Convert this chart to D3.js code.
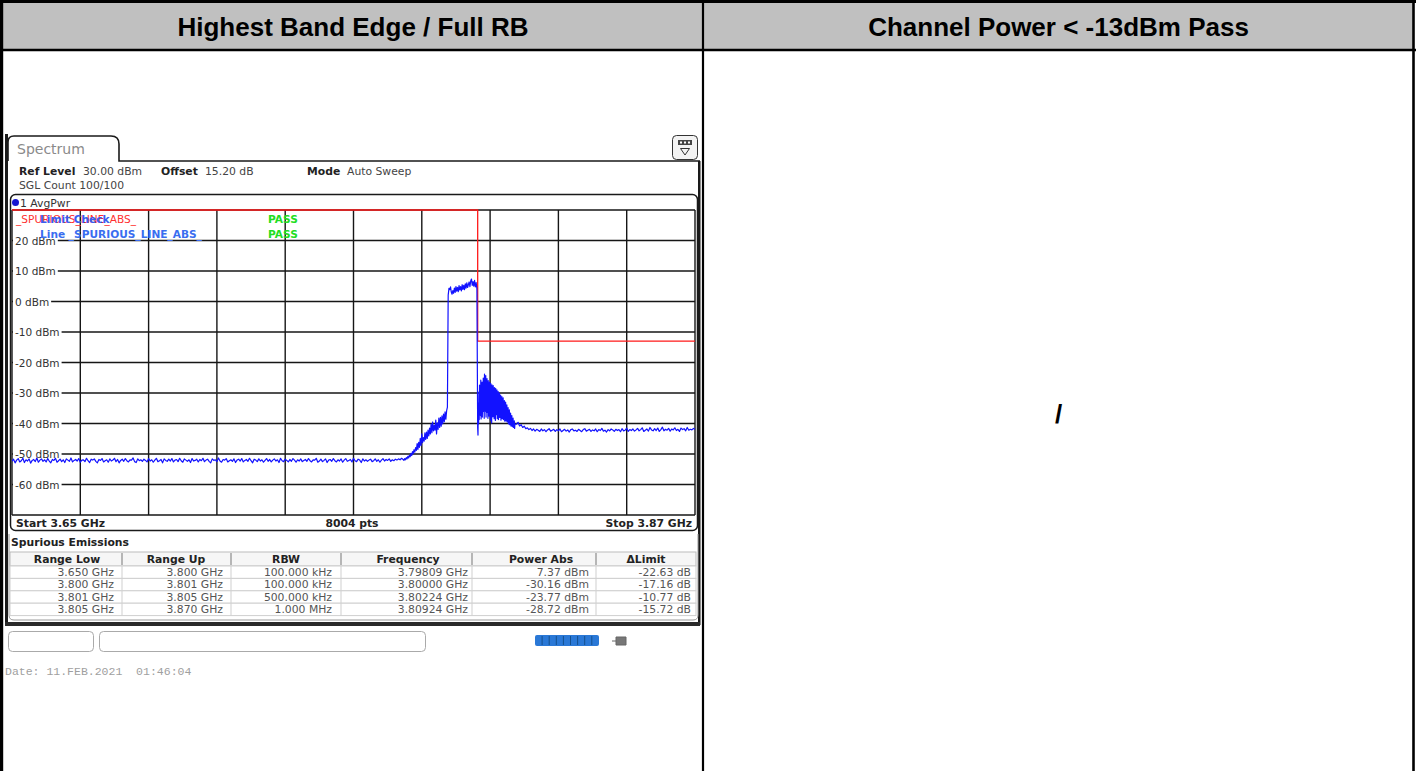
<!DOCTYPE html>
<html>
<head>
<meta charset="utf-8">
<title>Highest Band Edge / Full RB</title>
<script src="https://cdn.jsdelivr.net/npm/d3@7/dist/d3.min.js"></script>
<style>
  html, body { margin: 0; padding: 0; background: #fff; overflow: hidden; }
  svg { display: block; }
</style>
</head>
<body>
<svg id="page" width="1416" height="771"></svg>
<script>
// ---------- report cells ----------
const cellTitles = ["Highest Band Edge / Full RB", "Channel Power < -13dBm Pass"];
const rightCellText = "/";

// ---------- analyzer settings ----------
const tabName = "Spectrum";
const refLevelText = "30.00 dBm";
const offsetText = "15.20 dB";
const modeText = "Auto Sweep";
const sglCountText = "100/100";
const traceName = "1 AvgPwr";
const sweepStartMHz = 3650;
const sweepStopMHz = 3870;
const sweepPoints = 8004;
const levelTop = 30;
const levelBottom = -70;
const levelTicks = [20, 10, 0, -10, -20, -30, -40, -50, -60];
const freqDivisions = 10;

// ---------- limit line ----------
const limitFreqsMHz = [3650, 3800, 3800, 3870];
const limitLevels = [30, 30, -13, -13];
const limitLineName = "_SPURIOUS_LINE_ABS_";
const limitCheckLabel = "Limit Check";
const limitLineLabel = "Line _SPURIOUS_LINE_ABS_";
const limitResult = "PASS";

// ---------- trace (dBm), one array per stretch of the sweep ----------
// noise floor below the channel, 3650 MHz onward, 0.5 MHz apart
const floorLowStart = 3650, floorLowStep = 0.5;
const floorLow = [
  -52.4,-51.7,-52.9,-52.0,-51.5,-52.6,-52.2,-51.4,-52.8,-51.9,-52.3,-51.6,-53.0,-52.1,-51.8,-52.5,-51.3,-52.7,-52.0,-51.6,-52.4,
  -51.9,-52.6,-51.5,-52.3,-52.9,-51.8,-52.1,-51.4,-52.7,-52.2,-51.7,-52.5,-51.9,-52.8,-51.6,-52.0,-52.4,-51.3,-52.6,-52.1,-51.8,
  -52.3,-51.5,-52.7,-52.0,-51.9,-52.5,-51.4,-52.2,-52.8,-51.7,-52.0,-51.6,-52.4,-52.9,-51.8,-52.1,-51.5,-52.6,-52.2,-51.9,-52.7,
  -51.6,-52.3,-52.0,-51.4,-52.5,-51.8,-52.9,-52.1,-51.7,-52.4,-51.5,-52.2,-52.6,-51.9,-52.0,-51.3,-52.5,-52.8,-51.6,-52.2,-51.9,
  -52.4,-51.7,-52.1,-52.6,-51.5,-52.3,-51.9,-52.7,-52.0,-51.4,-52.5,-52.2,-51.8,-52.9,-51.6,-52.1,-52.4,-51.7,-52.3,-51.5,-52.6,
  -52.0,-51.8,-52.5,-51.4,-52.2,-52.7,-51.6,-52.0,-52.4,-51.9,-52.8,-51.5,-52.3,-52.1,-51.7,-52.6,-51.8,-52.2,-51.4,-52.5,-52.0,
  -51.7,-52.4,-52.9,-51.6,-52.1,-51.9,-52.5,-51.3,-52.3,-52.7,-51.8,-52.0,-51.5,-52.6,-52.2,-51.9,-52.4,-51.6,-52.8,-52.0,-51.7,
  -52.3,-51.5,-52.6,-52.1,-51.8,-52.4,-51.4,-52.2,-52.9,-51.7,-52.0,-52.5,-51.6,-52.3,-51.9,-52.7,-52.1,-51.5,-52.4,-51.8,-52.6,
  -52.0,-51.6,-52.3,-51.9,-52.8,-51.4,-52.2,-52.5,-51.7,-52.1,-52.6,-51.8,-52.4,-51.5,-52.0,-52.7,-51.9,-52.3,-51.6,-52.5,-52.1,
  -51.8,-52.4,-51.5,-52.2,-52.6,-51.9,-52.0,-51.4,-52.7,-52.3,-51.7,-52.5,-52.1,-51.6,-52.8,-52.0,-51.8,-52.4,-51.5,-52.2,-52.6,
  -51.9,-52.3,-51.6,-52.7,-52.0,-51.5,-52.4,-52.1,-51.8,-52.6,-51.4,-52.2,-52.5,-51.7,-52.0,-52.8,-51.6,-52.3,-51.9,-52.4,-52.0,
  -51.7,-52.5,-52.2,-51.6,-52.4,-51.9,-52.7,-52.0,-51.5,-52.3,-51.8,-52.1,-51.6,-52.4,-51.9,-52.2,-51.7,-52.0,-51.6,-51.9,-51.4
];
// lower skirt rising toward the channel, 0.25 MHz apart
const skirtLowStart = 3776, skirtLowStep = 0.25;
const skirtLow = [
  -51.8,-52.1,-51.5,-51.9,-51.2,-51.6,-50.8,-51.3,
  -50.4,-50.9,-49.8,-50.5,-49.2,-49.9,-48.6,-49.4,
  -47.9,-48.8,-46.6,-48.5,-46.2,-47.8,-44.9,-47.2,
  -43.4,-46.3,-44.6,-45.8,-43.1,-45.2,-42.8,-44.9,
  -42.2,-44.1,-41.5,-43.4,-40.1,-43.0,-39.5,-42.4,
  -40.6,-42.2,-38.9,-43.4,-39.8,-41.9,-38.2,-41.3,
  -38.0,-40.9,-37.5,-40.1,-36.9,-39.4,-36.2,-38.6,
  -35.8,-34.6
];
// occupied channel, 0.25 MHz apart
const channelStart = 3790.5, channelStep = 0.25;
const channelTop = [
  2.1,4.3,
  3.9,4.8,3.1,2.4,
  3.6,2.7,4.4,3.0,
  4.9,3.4,4.6,3.2,
  5.2,3.8,4.9,3.5,
  5.5,4.0,5.3,3.9,
  5.8,4.4,6.1,4.6,
  5.5,6.4,4.9,6.7,
  7.37,5.3,6.5,5.0,
  6.9,4.8,6.2,4.2
];
// spurious cluster just above the band edge, 0.1 MHz apart
const spurStart = 3800, spurStep = 0.1;
const spurCluster = [
  -41.5,-43.8,-33.2,-40.1,-29.6,-38.7,-27.4,-36.2,-30.1,-37.4,
  -25.8,-38.5,-28.9,-34.8,-26.4,-37.9,-29.2,-36.1,-25.1,-35.0,
  -27.2,-38.3,-23.77,-34.1,-26.6,-36.0,-24.3,-37.9,-28.9,-35.2,
  -25.3,-36.4,-27.8,-38.3,-25.9,-34.8,-29.2,-37.6,-26.4,-35.9,
  -28.9,-38.9,-26.8,-35.1,-29.6,-39.8,-27.3,-36.2,-30.5,-37.8,
  -27.6,-35.7,-30.4,-38.4,-28.2,-36.2,-31.0,-39.0,-28.5,-36.5,
  -31.1,-37.1,-29.0,-38.4,-31.6,-36.8,-29.5,-38.7,-32.2,-37.2,
  -30.0,-38.0,-32.6,-37.3,-30.7,-38.9,-33.1,-37.3,-31.2,-38.4,
  -33.4,-37.6,-31.6,-38.7,-33.9,-38.1,-32.5,-39.2,-34.6,-38.8,
  -33.0,-39.2,-35.1,-38.6,-33.9,-39.5,-35.8,-39.3,-34.8,-40.1,
  -36.4,-39.6,-35.5,-40.4,-37.2,-40.1,-36.6,-40.8,-38.1,-40.4,
  -37.4,-41.0,-38.9,-40.9,-38.2,-41.3,-39.6,-41.2,-39.1,-41.6,
  -40.2
];
// noise floor above the cluster up to the stop frequency, 0.5 MHz apart
const floorHighStart = 3812.5, floorHighStep = 0.5;
const floorHigh = [
  -40.2,-39.6,-40.8,-40.4,-41.3,-40.9,-41.7,-41.4,-42.0,-41.6,-42.3,-41.8,-42.5,-41.9,-42.2,-42.6,-41.8,-42.4,-42.0,-42.7,
  -42.1,-41.7,-42.5,-42.2,-41.9,-42.6,-42.0,-42.4,-41.8,-42.7,-42.3,-41.9,-42.5,-42.1,-42.8,-42.0,-41.8,-42.4,-42.2,-42.6,
  -41.9,-42.3,-42.7,-42.0,-41.7,-42.5,-42.2,-41.9,-42.6,-42.1,-42.4,-41.8,-42.7,-42.0,-42.3,-41.6,-42.5,-42.2,-42.8,-42.0,
  -42.4,-41.8,-42.1,-42.6,-41.9,-42.3,-42.0,-42.7,-41.7,-42.4,-42.2,-41.5,-42.6,-42.0,-42.3,-41.8,-42.5,-42.1,-41.6,-42.4,
  -42.0,-41.4,-42.6,-42.2,-41.8,-42.5,-41.3,-42.1,-42.4,-41.7,-42.3,-41.5,-42.6,-42.0,-41.2,-42.4,-41.9,-42.2,-41.6,-42.5,
  -41.8,-42.1,-41.4,-42.3,-41.9,-42.6,-41.5,-42.0,-41.7,-42.4,-41.3,-42.2,-41.9,-42.1,-41.6,-42.0
];

// ---------- spurious emissions table ----------
const tableTitle = "Spurious Emissions";
const tableColumns = ["Range Low", "Range Up", "RBW", "Frequency", "Power Abs", "\u0394Limit"];
const rangeLow = ["3.650 GHz", "3.800 GHz", "3.801 GHz", "3.805 GHz"];
const rangeUp = ["3.800 GHz", "3.801 GHz", "3.805 GHz", "3.870 GHz"];
const rbw = ["100.000 kHz", "100.000 kHz", "500.000 kHz", "1.000 MHz"];
const peakFreq = ["3.79809 GHz", "3.80000 GHz", "3.80224 GHz", "3.80924 GHz"];
const powerAbs = [7.37, -30.16, -23.77, -28.72];
const deltaLimit = [-22.63, -17.16, -10.77, -15.72];

const dateText = "Date: 11.FEB.2021  01:46:04";

// ======================================================================
const svg = d3.select("#page");
const SANS = "'DejaVu Sans', Verdana, sans-serif";
const ARIAL = "'Liberation Sans', Arial, sans-serif";
const FS = 10.8;

function label(g, x, y, s, o = {}) {
  return g.append("text")
    .attr("x", x).attr("y", y)
    .attr("font-family", o.family || SANS)
    .attr("font-size", o.size || FS)
    .attr("font-weight", o.bold ? "bold" : "normal")
    .attr("text-anchor", o.anchor || "start")
    .attr("fill", o.fill || "#222")
    .text(s);
}

// ---------- outer report table ----------
svg.append("rect").attr("x", 3).attr("y", 3).attr("width", 1410).attr("height", 47).attr("fill", "#c0c0c0");
[
  [0, 1.5, 1416, 1.5, 3],
  [1.6, 0, 1.6, 771, 3.2],
  [0, 50, 1416, 50, 2.6],
  [703, 0, 703, 771, 2.2],
  [1413.5, 0, 1413.5, 771, 2.6]
].forEach(([x1, y1, x2, y2, w]) => {
  svg.append("line").attr("x1", x1).attr("y1", y1).attr("x2", x2).attr("y2", y2)
    .attr("stroke", "#000").attr("stroke-width", w);
});
const cellCenters = [353, 1058.5];
cellTitles.forEach((t, i) => {
  label(svg, cellCenters[i], 36, t, { family: ARIAL, size: 26, bold: true, anchor: "middle", fill: "#000" });
});
label(svg, 1058.5, 423, rightCellText, { family: ARIAL, size: 26, bold: true, anchor: "middle", fill: "#000" });

// ---------- analyzer screen ----------
const scr = svg.append("g");
scr.append("rect").attr("x", 5).attr("y", 134).attr("width", 3).attr("height", 491).attr("fill", "#1a1a1a");
scr.append("rect").attr("x", 698).attr("y", 161).attr("width", 2.5).attr("height", 464).attr("fill", "#1a1a1a");

// tab
scr.append("path").attr("d", "M8,161 V142 Q8,136 14,136 H111 Q119,136 119,144 V161 H700")
  .attr("fill", "none").attr("stroke", "#1a1a1a").attr("stroke-width", 1.6);
label(scr, 17, 154, tabName, { size: 14, fill: "#8a8a8a" });

// small menu icon
scr.append("rect").attr("x", 672.5).attr("y", 135.5).attr("width", 25).attr("height", 24).attr("rx", 4)
  .attr("fill", "#f3f3f3").attr("stroke", "#333");
scr.append("rect").attr("x", 678).attr("y", 140).attr("width", 14).attr("height", 5).attr("fill", "#444");
[680, 684, 688].forEach(kx => scr.append("rect").attr("x", kx).attr("y", 141.5).attr("width", 2).attr("height", 2).attr("fill", "#fff"));
scr.append("path").attr("d", "M680.5,148.5 H689.5 L685,155 Z").attr("fill", "none").attr("stroke", "#333");

// setting line
label(scr, 19, 175, "Ref Level", { bold: true });
label(scr, 83, 175, refLevelText, { fill: "#444" });
label(scr, 161, 175, "Offset", { bold: true });
label(scr, 205, 175, offsetText, { fill: "#444" });
label(scr, 307, 175, "Mode", { bold: true });
label(scr, 347, 175, modeText, { fill: "#444" });
label(scr, 19, 189, "SGL Count " + sglCountText, { fill: "#444" });

// diagram frame
scr.append("rect").attr("x", 10.5).attr("y", 194.5).attr("width", 687).attr("height", 336).attr("rx", 5)
  .attr("fill", "none").attr("stroke", "#1a1a1a").attr("stroke-width", 1.5);
scr.append("circle").attr("cx", 15.5).attr("cy", 202.5).attr("r", 3.5).attr("fill", "#1515d0");
label(scr, 20, 207, traceName, { fill: "#333" });

// ---------- diagram ----------
const plot = { left: 12, right: 695, top: 210, bottom: 515 };
const x = d3.scaleLinear().domain([sweepStartMHz, sweepStopMHz]).range([plot.left, plot.right]);
const y = d3.scaleLinear().domain([levelBottom, levelTop]).range([plot.bottom, plot.top]);

const grid = scr.append("g").attr("stroke", "#161616").attr("stroke-width", 1.4);
const gridFreqs = d3.range(freqDivisions + 1).map(i => sweepStartMHz + i * (sweepStopMHz - sweepStartMHz) / freqDivisions);
gridFreqs.forEach(f => grid.append("line")
  .attr("x1", x(f)).attr("x2", x(f)).attr("y1", y(levelTop)).attr("y2", y(levelBottom)));
[levelTop, ...levelTicks, levelBottom].forEach(v => grid.append("line")
  .attr("x1", plot.left).attr("x2", plot.right).attr("y1", y(v)).attr("y2", y(v)));

// level labels sit on their grid line, masking it
const tickG = scr.append("g");
levelTicks.forEach(v => {
  const t = label(tickG, 15, y(v) + 4, v + " dBm", { size: 10.5, fill: "#333" });
  const w = t.node().getComputedTextLength();
  tickG.insert("rect", "text").attr("x", plot.left + 1).attr("y", y(v) - 5).attr("width", w + 4).attr("height", 10).attr("fill", "#fff");
});

// limit line
scr.append("defs").append("clipPath").attr("id", "plotClip")
  .append("rect").attr("x", plot.left).attr("y", plot.top - 1).attr("width", plot.right - plot.left).attr("height", plot.bottom - plot.top + 1);
const limitData = limitFreqsMHz.map((f, i) => ({ f, v: limitLevels[i] }));
scr.append("path").datum(limitData)
  .attr("d", d3.line().x(d => x(d.f)).y(d => y(d.v)))
  .attr("fill", "none").attr("stroke", "#ff1a1a").attr("stroke-width", 1.3);

// limit check legend (the red line name and the blue check text share a spot on screen)
label(scr, 16, 223, limitLineName, { size: 10.6, fill: "#ff3030" });
label(scr, 40, 223, limitCheckLabel, { size: 10.6, bold: true, fill: "#3a5ef0" });
label(scr, 268, 223, limitResult, { size: 10.6, bold: true, fill: "#22dd22" });
label(scr, 40, 237.5, limitLineLabel, { size: 10.6, bold: true, fill: "#3a6ef0" });
label(scr, 268, 237.5, limitResult, { size: 10.6, bold: true, fill: "#22dd22" });

// trace
const segments = [
  [floorLowStart, floorLowStep, floorLow],
  [skirtLowStart, skirtLowStep, skirtLow],
  [channelStart, channelStep, channelTop],
  [spurStart, spurStep, spurCluster],
  [floorHighStart, floorHighStep, floorHigh]
];
const trace = segments.flatMap(([s, st, vals]) => vals.map((v, i) => ({ f: s + i * st, v })));
scr.append("path").datum(trace)
  .attr("clip-path", "url(#plotClip)")
  .attr("d", d3.line().x(d => x(d.f)).y(d => y(d.v)))
  .attr("fill", "none").attr("stroke", "#1212ff").attr("stroke-width", 1.2).attr("stroke-linejoin", "round");

// frequency footer
label(scr, 16, 527, "Start " + (sweepStartMHz / 1000).toFixed(2) + " GHz", { bold: true });
label(scr, 352, 527, sweepPoints + " pts", { bold: true, anchor: "middle" });
label(scr, 692, 527, "Stop " + (sweepStopMHz / 1000).toFixed(2) + " GHz", { bold: true, anchor: "end" });

// ---------- spurious emissions table ----------
scr.append("path").attr("d", "M9,534 V615 Q9,620 14,620 H693 Q698,620 698,615 V534")
  .attr("fill", "none").attr("stroke", "#9a9a9a");
label(scr, 11, 546, tableTitle, { bold: true });

const colEdges = [10, 122, 231, 341, 472, 596, 696];
const headerCenters = [67, 176, 286, 408, 541, 646];
const valueRight = [114, 223, 332, 468, 589, 691];
const headTop = 552, headBottom = 566, rowH = 12.4;
const tbl = scr.append("g");
tbl.append("rect").attr("x", colEdges[0]).attr("y", headTop).attr("width", colEdges[6] - colEdges[0]).attr("height", headBottom - headTop)
  .attr("fill", "#f6f6f6").attr("stroke", "#bbb");
tableColumns.forEach((c, i) => label(tbl, headerCenters[i], headBottom - 3, c, { bold: true, anchor: "middle" }));
colEdges.slice(1, -1).forEach(e => tbl.append("line").attr("x1", e).attr("x2", e).attr("y1", headTop + 1).attr("y2", headBottom - 1)
  .attr("stroke", "#777"));

const rows = rangeLow.map((_, i) => [
  rangeLow[i], rangeUp[i], rbw[i], peakFreq[i],
  powerAbs[i].toFixed(2) + " dBm", deltaLimit[i].toFixed(2) + " dB"
]);
rows.forEach((r, ri) => {
  const top = headBottom + ri * rowH;
  tbl.append("rect").attr("x", colEdges[0]).attr("y", top).attr("width", colEdges[6] - colEdges[0]).attr("height", rowH)
    .attr("fill", "#fff").attr("stroke", "#cfcfcf");
  colEdges.slice(1, -1).forEach(e => tbl.append("line").attr("x1", e).attr("x2", e).attr("y1", top).attr("y2", top + rowH)
    .attr("stroke", "#cfcfcf"));
  r.forEach((cell, ci) => label(tbl, valueRight[ci], top + rowH - 2.6, cell, { fill: "#555", anchor: "end" }));
});

// status bar
scr.append("rect").attr("x", 5).attr("y", 622).attr("width", 695).attr("height", 4).attr("fill", "#2a2a2a");
scr.append("rect").attr("x", 8.5).attr("y", 631.5).attr("width", 85).attr("height", 20).attr("rx", 4)
  .attr("fill", "#fff").attr("stroke", "#aaa");
scr.append("rect").attr("x", 99.5).attr("y", 631.5).attr("width", 326).attr("height", 20).attr("rx", 4)
  .attr("fill", "#fff").attr("stroke", "#aaa");
const bar = scr.append("g");
bar.append("rect").attr("x", 535).attr("y", 635).attr("width", 64).attr("height", 11).attr("rx", 2).attr("fill", "#2a78d6");
d3.range(1, 9).forEach(i => bar.append("line").attr("x1", 535 + i * 7.1).attr("x2", 535 + i * 7.1)
  .attr("y1", 636).attr("y2", 645).attr("stroke", "#14508f").attr("stroke-width", 1));
bar.append("path").attr("d", "M612,641 H616 V637 H626 V645 H616 V641").attr("fill", "#777").attr("stroke", "#666");

label(svg, 5, 675, dateText, { family: "'Liberation Mono', 'DejaVu Sans Mono', monospace", size: 11.5, fill: "#a0a0a0" })
  .attr("xml:space", "preserve").style("white-space", "pre");
</script>
</body>
</html>
